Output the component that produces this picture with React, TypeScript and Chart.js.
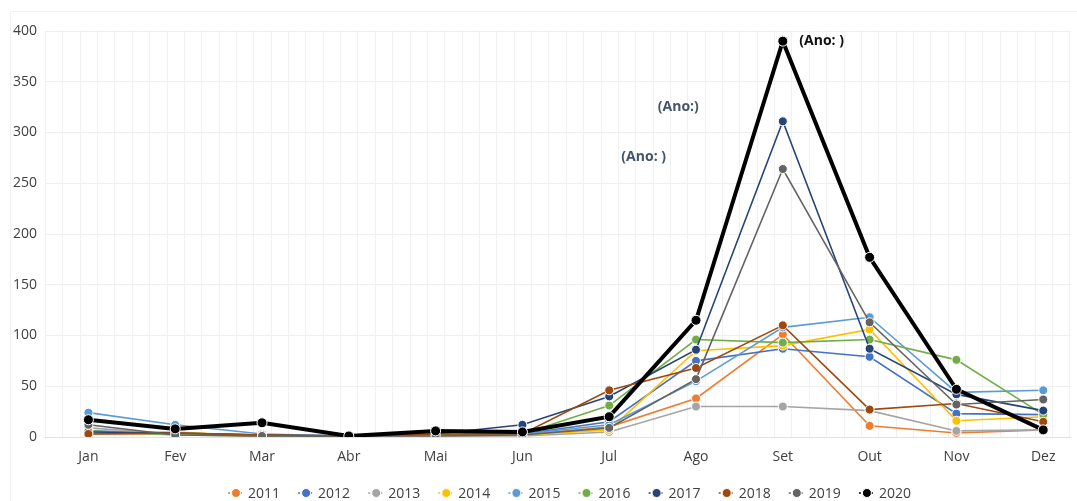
import React, { useEffect, useRef } from "react";
import { Chart, registerables } from "chart.js";

Chart.register(...registerables);

const months = ["Jan", "Fev", "Mar", "Abr", "Mai", "Jun", "Jul", "Ago", "Set", "Out", "Nov", "Dez"];
const years = ["2011", "2012", "2013", "2014", "2015", "2016", "2017", "2018", "2019", "2020"];
const yTicks = [0, 50, 100, 150, 200, 250, 300, 350, 400];

const s2011 = [3, 3, 1, 1, 2, 2, 10, 38, 101, 11, 4, 7];
const s2012 = [6, 4, 2, 1, 2, 3, 15, 75, 87, 79, 23, 22];
const s2013 = [9, 3, 1, 2, 1, 1, 5, 30, 30, 26, 6, 7];
const s2014 = [5, 5, 1, 1, 2, 2, 7, 85, 90, 106, 16, 20];
const s2015 = [24, 12, 3, 1, 2, 3, 12, 55, 108, 118, 44, 46];
const s2016 = [6, 2, 1, 1, 2, 3, 31, 96, 93, 96, 76, 22];
const s2017 = [5, 4, 2, 1, 3, 12, 40, 86, 311, 87, 42, 26];
const s2018 = [3, 4, 2, 1, 3, 3, 46, 68, 110, 27, 33, 15];
const s2019 = [12, 2, 1, 1, 1, 2, 9, 57, 264, 113, 32, 37];
const s2020 = [17, 8, 14, 1, 6, 5, 20, 115, 390, 177, 47, 7];

const seriesValues = [s2011, s2012, s2013, s2014, s2015, s2016, s2017, s2018, s2019, s2020];
const seriesColors = [
  "#ED7D31", "#4472C4", "#A5A5A5", "#FFC000", "#5B9BD5",
  "#70AD47", "#264478", "#9E480E", "#636363", "#000000",
];

// Floating "(Ano: )" notes: [text, month position, value, colour]
const notes: [string, number, number, string][] = [
  ["(Ano: )", 8.19, 390, "#111111"],
  ["(Ano:)", 6.56, 325, "#44546A"],
  ["(Ano: )", 6.14, 276, "#44546A"],
];

const FONT = "'Open Sans', 'DejaVu Sans', sans-serif";

const backgroundAndGrid = {
  id: "backgroundAndGrid",
  beforeDraw(chart: any) {
    const { ctx, width, height } = chart;
    ctx.save();
    ctx.fillStyle = "#ffffff";
    ctx.fillRect(0, 0, width, height);
    ctx.strokeStyle = "#f0f0f0";
    ctx.lineWidth = 1;
    ctx.strokeRect(10.5, 11.5, width + 10, height + 10);
    ctx.restore();
  },
  beforeDatasetsDraw(chart: any) {
    const { ctx, chartArea } = chart;
    const xs = chart.scales.x;
    ctx.save();
    ctx.strokeStyle = "#f1f1f1";
    ctx.lineWidth = 1;
    for (let k = 0; k <= 80; k++) {
      const v = -0.5 + k * 0.2;
      const px = Math.round(xs.getPixelForValue(v)) + 0.5;
      if (px > chart.width) break;
      ctx.beginPath();
      ctx.moveTo(px, chartArea.top);
      ctx.lineTo(px, chartArea.bottom);
      ctx.stroke();
    }
    ctx.restore();
  },
};

const notesAndLegend = {
  id: "notesAndLegend",
  afterDraw(chart: any) {
    const { ctx } = chart;
    const xs = chart.scales.x;
    const ys = chart.scales.y;
    ctx.save();
    ctx.font = `bold 14px ${FONT}`;
    ctx.textBaseline = "middle";
    ctx.textAlign = "left";
    notes.forEach(([text, xv, yv, color]) => {
      ctx.fillStyle = color;
      ctx.fillText(text, xs.getPixelForValue(xv), ys.getPixelForValue(yv));
    });

    // Legend: short line with a dot, then the year
    ctx.font = `14px ${FONT}`;
    const y = 493;
    chart.data.datasets.forEach((ds: any, i: number) => {
      const cx = 236 + i * 70.1;
      ctx.strokeStyle = ds.borderColor;
      ctx.lineWidth = 1.5;
      ctx.setLineDash([2, 2]);
      ctx.beginPath();
      ctx.moveTo(cx - 8, y);
      ctx.lineTo(cx + 8, y);
      ctx.stroke();
      ctx.setLineDash([]);
      ctx.beginPath();
      ctx.arc(cx, y, 4.5, 0, Math.PI * 2);
      ctx.fillStyle = ds.borderColor;
      ctx.fill();
      ctx.strokeStyle = "#ffffff";
      ctx.lineWidth = 1;
      ctx.stroke();
      ctx.fillStyle = "#404040";
      ctx.textAlign = "left";
      ctx.fillText(ds.label, cx + 12, y + 1);
    });
    ctx.restore();
  },
};

export default function App() {
  const canvasRef = useRef<HTMLCanvasElement | null>(null);

  useEffect(() => {
    if (!canvasRef.current) return;
    const datasets = years.map((label, i) => {
      const isLast = i === years.length - 1;
      return {
        label,
        data: seriesValues[i].map((v, m) => ({ x: m, y: v })),
        borderColor: seriesColors[i],
        backgroundColor: seriesColors[i],
        pointBackgroundColor: seriesColors[i],
        pointBorderColor: "#ffffff",
        pointBorderWidth: 1,
        pointRadius: isLast ? 5 : 4.5,
        borderWidth: isLast ? 4 : 1.6,
        tension: 0,
        fill: false,
        order: years.length - i,
      };
    });

    const chart = new Chart(canvasRef.current, {
      type: "line",
      data: { datasets },
      options: {
        responsive: false,
        animation: false,
        layout: { padding: { top: 31, left: 0, right: 0, bottom: 0 } },
        plugins: {
          legend: { display: false },
          tooltip: { enabled: false },
          title: { display: false },
        },
        scales: {
          x: {
            type: "linear",
            min: -0.5,
            max: 11.32,
            grid: { display: false },
            border: { display: false },
            afterBuildTicks: (scale: any) => {
              scale.ticks = months.map((_, i) => ({ value: i }));
            },
            afterFit: (scale: any) => {
              scale.height = 64;
            },
            ticks: {
              autoSkip: false,
              maxRotation: 0,
              padding: 4,
              color: "#404040",
              font: { family: FONT, size: 14 },
              callback: (v: any) => months[v as number] ?? "",
            },
          },
          y: {
            min: 0,
            max: 400,
            afterBuildTicks: (scale: any) => {
              scale.ticks = yTicks.map((value) => ({ value }));
            },
            afterFit: (scale: any) => {
              scale.width = 45;
            },
            border: { display: false },
            grid: {
              drawTicks: false,
              color: (ctx: any) => (ctx.tick && ctx.tick.value === 0 ? "#dde1ea" : "#efefef"),
              lineWidth: 1,
            },
            ticks: {
              padding: 8,
              color: "#404040",
              font: { family: FONT, size: 14 },
            },
          },
        },
      },
      plugins: [backgroundAndGrid, notesAndLegend],
    });
    return () => chart.destroy();
  }, []);

  return (
    <div style={{ position: "fixed", left: 0, top: 0, width: 1077, height: 501, background: "#fff" }}>
      <canvas ref={canvasRef} width={1077} height={501} />
    </div>
  );
}
